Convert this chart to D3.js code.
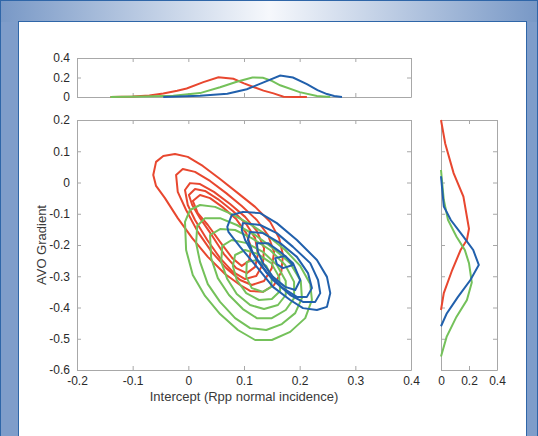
<!DOCTYPE html>
<meta charset="utf-8">
<style>
body { margin: 0; background: #fff; }
svg text { font-family: "Liberation Sans", Arial, sans-serif; fill: #333; }
.axis path, .axis line { stroke: #a8a8a8; }
.axis text { font-size: 12px; fill: #2a2a2a; }
.contour { fill: none; stroke-width: 2; stroke-linejoin: round; }
.marg { fill: none; stroke-width: 2; }
</style>
<body></body>
<script src="https://d3js.org/d3.v7.min.js"></script>
<script>
// colours of the three classes
var classColors = ["#e8472f", "#74c15a", "#2160ac"];

// tick values
var mainXTicks = [-0.2, -0.1, 0, 0.1, 0.2, 0.3, 0.4];
var mainYTicks = [0.2, 0.1, 0, -0.1, -0.2, -0.3, -0.4, -0.5, -0.6];
var densTicks = [0, 0.2, 0.4];

// top marginal: density of intercept, [intercept, density]
var topRed = [[-0.14,0],[-0.1,0.005],[-0.07,0.015],[-0.045,0.037],[-0.02,0.065],[-0.003,0.087],[0.027,0.153],[0.054,0.203],[0.081,0.187],[0.1,0.14],[0.117,0.103],[0.135,0.065],[0.153,0.037],[0.171,0.003],[0.19,0],[0.213,0]];
var topGreen = [[-0.14,0],[-0.08,0.004],[-0.027,0.012],[0.021,0.04],[0.057,0.1],[0.087,0.157],[0.115,0.2],[0.134,0.197],[0.15,0.165],[0.165,0.12],[0.2,0.05],[0.231,0.01],[0.255,0]];
var topBlue = [[-0.045,0],[0.021,0.013],[0.07,0.033],[0.105,0.08],[0.134,0.147],[0.165,0.22],[0.188,0.2],[0.213,0.133],[0.232,0.07],[0.249,0.03],[0.262,0.01],[0.276,0]];

// right marginal: density of gradient, [gradient, density]
var rightRed = [[0.2,0],[0.125,0.03],[0.03,0.09],[-0.045,0.16],[-0.148,0.2],[-0.184,0.185],[-0.216,0.14],[-0.28,0.08],[-0.354,0.02],[-0.408,0]];
var rightGreen = [[0.04,0],[-0.056,0.02],[-0.12,0.05],[-0.173,0.11],[-0.216,0.17],[-0.258,0.2],[-0.32,0.22],[-0.376,0.185],[-0.43,0.11],[-0.494,0.04],[-0.557,0]];
var rightBlue = [[0.02,0],[-0.077,0.02],[-0.12,0.07],[-0.173,0.16],[-0.216,0.23],[-0.264,0.27],[-0.312,0.21],[-0.367,0.12],[-0.42,0.04],[-0.46,0]];

// contour rings, [intercept, gradient]
var redRings = [
  [[-0.063,0.024],[-0.058,0.066],[-0.045,0.085],[-0.024,0.091],[-0.001,0.082],[0.026,0.053],[0.057,0.011],[0.089,-0.034],[0.120,-0.078],[0.147,-0.126],[0.163,-0.178],[0.170,-0.232],[0.167,-0.286],[0.154,-0.328],[0.134,-0.350],[0.111,-0.347],[0.093,-0.328],[0.066,-0.293],[0.035,-0.238],[0.007,-0.178],[-0.019,-0.114],[-0.042,-0.050],[-0.058,-0.011]],
  [[-0.022,0.024],[-0.010,0.043],[0.012,0.034],[0.039,0.005],[0.068,-0.034],[0.096,-0.075],[0.123,-0.120],[0.143,-0.168],[0.154,-0.222],[0.150,-0.274],[0.136,-0.315],[0.114,-0.328],[0.093,-0.312],[0.068,-0.274],[0.042,-0.222],[0.017,-0.158],[-0.004,-0.088],[-0.019,-0.030]],
  [[-0.006,-0.024],[0.003,-0.002],[0.021,-0.005],[0.046,-0.030],[0.075,-0.069],[0.102,-0.110],[0.123,-0.155],[0.136,-0.210],[0.134,-0.261],[0.122,-0.299],[0.102,-0.309],[0.080,-0.286],[0.057,-0.242],[0.034,-0.184],[0.012,-0.120],[-0.001,-0.072]],
  [[0.001,-0.040],[0.012,-0.021],[0.030,-0.027],[0.053,-0.053],[0.080,-0.091],[0.104,-0.133],[0.120,-0.178],[0.125,-0.229],[0.120,-0.270],[0.105,-0.290],[0.086,-0.274],[0.064,-0.229],[0.043,-0.171],[0.021,-0.114],[0.007,-0.072]],
  [[0.008,-0.059],[0.021,-0.040],[0.039,-0.050],[0.061,-0.078],[0.086,-0.117],[0.104,-0.162],[0.113,-0.210],[0.109,-0.251],[0.096,-0.267],[0.079,-0.242],[0.057,-0.190],[0.035,-0.136],[0.017,-0.098]]
];
var greenRings = [
  [[-0.006,-0.126],[0.003,-0.088],[0.021,-0.072],[0.048,-0.078],[0.078,-0.101],[0.111,-0.133],[0.143,-0.171],[0.174,-0.216],[0.201,-0.267],[0.219,-0.325],[0.222,-0.376],[0.210,-0.434],[0.183,-0.478],[0.150,-0.504],[0.120,-0.504],[0.089,-0.472],[0.057,-0.421],[0.030,-0.363],[0.008,-0.296],[-0.004,-0.216]],
  [[0.016,-0.139],[0.030,-0.114],[0.057,-0.114],[0.087,-0.136],[0.120,-0.168],[0.152,-0.210],[0.183,-0.258],[0.202,-0.315],[0.204,-0.370],[0.192,-0.418],[0.168,-0.453],[0.140,-0.472],[0.111,-0.466],[0.084,-0.434],[0.057,-0.382],[0.035,-0.325],[0.021,-0.254],[0.014,-0.194]],
  [[0.039,-0.168],[0.057,-0.149],[0.084,-0.152],[0.114,-0.178],[0.147,-0.216],[0.174,-0.264],[0.190,-0.318],[0.190,-0.370],[0.175,-0.408],[0.150,-0.434],[0.123,-0.434],[0.098,-0.405],[0.073,-0.360],[0.053,-0.306],[0.041,-0.242]],
  [[0.061,-0.203],[0.078,-0.184],[0.105,-0.194],[0.134,-0.222],[0.159,-0.264],[0.175,-0.315],[0.175,-0.360],[0.161,-0.392],[0.136,-0.405],[0.111,-0.392],[0.087,-0.357],[0.070,-0.309],[0.059,-0.254]],
  [[0.084,-0.232],[0.102,-0.216],[0.125,-0.229],[0.149,-0.258],[0.163,-0.302],[0.165,-0.347],[0.150,-0.373],[0.127,-0.376],[0.104,-0.354],[0.087,-0.312],[0.080,-0.267]],
  [[0.105,-0.254],[0.123,-0.248],[0.140,-0.267],[0.150,-0.302],[0.149,-0.334],[0.134,-0.350],[0.114,-0.338],[0.104,-0.302]]
];
var blueRings = [
  [[0.070,-0.142],[0.078,-0.104],[0.098,-0.094],[0.129,-0.098],[0.159,-0.130],[0.195,-0.184],[0.231,-0.248],[0.249,-0.302],[0.255,-0.354],[0.249,-0.398],[0.231,-0.408],[0.206,-0.402],[0.183,-0.376],[0.152,-0.334],[0.123,-0.270],[0.093,-0.206],[0.072,-0.158]],
  [[0.096,-0.152],[0.098,-0.130],[0.129,-0.136],[0.159,-0.162],[0.188,-0.206],[0.219,-0.258],[0.233,-0.312],[0.237,-0.354],[0.228,-0.382],[0.206,-0.382],[0.183,-0.360],[0.152,-0.312],[0.123,-0.248],[0.102,-0.184]],
  [[0.107,-0.184],[0.111,-0.158],[0.134,-0.162],[0.165,-0.194],[0.195,-0.238],[0.215,-0.290],[0.222,-0.338],[0.213,-0.366],[0.195,-0.366],[0.170,-0.338],[0.141,-0.290],[0.116,-0.226]],
  [[0.123,-0.194],[0.143,-0.194],[0.168,-0.226],[0.188,-0.258],[0.201,-0.312],[0.192,-0.344],[0.174,-0.334],[0.152,-0.302],[0.134,-0.258],[0.125,-0.222]],
  [[0.156,-0.242],[0.174,-0.235],[0.188,-0.264],[0.170,-0.274],[0.159,-0.261]]
];

var width = 538, height = 436;

var svg = d3.select("body").append("svg")
    .attr("width", width)
    .attr("height", height);

// --- frame ---
var defs = svg.append("defs");
var grad = defs.append("linearGradient").attr("id", "topbar");
grad.append("stop").attr("offset", "0%").attr("stop-color", "#7898c6");
grad.append("stop").attr("offset", "50%").attr("stop-color", "#f6f8fc");
grad.append("stop").attr("offset", "100%").attr("stop-color", "#7898c6");

svg.append("rect").attr("width", width).attr("height", height).attr("fill", "#7f9dca");
svg.append("rect").attr("width", width).attr("height", 22).attr("fill", "url(#topbar)");
svg.append("rect").attr("x", 0.5).attr("y", 0.5).attr("width", width - 1).attr("height", height)
    .attr("fill", "none").attr("stroke", "#2f66a8");
svg.append("rect").attr("x", 18.5).attr("y", 21.5).attr("width", 508).attr("height", height)
    .attr("fill", "#fff").attr("stroke", "#2f66a8");

// --- scales ---
var xMain = d3.scaleLinear().domain([-0.2, 0.4]).range([77, 411]);
var yMain = d3.scaleLinear().domain([-0.6, 0.2]).range([370, 120]);
var yTop = d3.scaleLinear().domain([0, 0.4]).range([97, 58]);
var xRight = d3.scaleLinear().domain([0, 0.4]).range([441, 497]);

// plain hyphen minus, like matlab
var fmt = function(d) { return String(+d.toFixed(1)); };

// draws a matlab-like box with inward ticks on all four sides
function box(xs, ys, xt, yt, showX, showY) {
  var g = svg.append("g").attr("class", "axis");
  var x0 = xs.range()[0], x1 = xs.range()[1];
  var yb = ys.range()[0], yt0 = ys.range()[1];

  g.append("g").attr("transform", "translate(0," + yb + ")")
    .call(d3.axisBottom(xs).tickValues(xt).tickSize(-4).tickSizeOuter(0).tickPadding(6)
      .tickFormat(showX ? fmt : ""));
  g.append("g").attr("transform", "translate(0," + yt0 + ")")
    .call(d3.axisTop(xs).tickValues(xt).tickSize(-4).tickSizeOuter(0).tickFormat(""));
  g.append("g").attr("transform", "translate(" + x0 + ",0)")
    .call(d3.axisLeft(ys).tickValues(yt).tickSize(-4).tickSizeOuter(0).tickPadding(7)
      .tickFormat(showY ? fmt : ""));
  g.append("g").attr("transform", "translate(" + x1 + ",0)")
    .call(d3.axisRight(ys).tickValues(yt).tickSize(-4).tickSizeOuter(0).tickFormat(""));
  g.selectAll("text").attr("font-family", null).attr("font-size", null);
  return g;
}

box(xMain, yMain, mainXTicks, mainYTicks, true, true);
box(xMain, yTop, mainXTicks, densTicks, false, true);
box(xRight, yMain, densTicks, mainYTicks, true, false);

// --- contours ---
var ring = d3.line()
    .x(function(d) { return xMain(d[0]); })
    .y(function(d) { return yMain(d[1]); })
    .curve(d3.curveLinearClosed);

[redRings, greenRings, blueRings].forEach(function(rings, i) {
  svg.append("g").selectAll("path")
    .data(rings)
    .enter().append("path")
      .attr("class", "contour")
      .attr("stroke", classColors[i])
      .attr("d", ring);
});

// --- marginal densities ---
var topLine = d3.line()
    .x(function(d) { return xMain(d[0]); })
    .y(function(d) { return yTop(d[1]); });
var rightLine = d3.line()
    .x(function(d) { return xRight(d[1]); })
    .y(function(d) { return yMain(d[0]); });

[topRed, topGreen, topBlue].forEach(function(s, i) {
  svg.append("path").datum(s).attr("class", "marg")
    .attr("stroke", classColors[i]).attr("d", topLine);
});
[rightRed, rightGreen, rightBlue].forEach(function(s, i) {
  svg.append("path").datum(s).attr("class", "marg")
    .attr("stroke", classColors[i]).attr("d", rightLine);
});

// --- axis titles ---
svg.append("text")
    .attr("x", 244).attr("y", 401)
    .attr("text-anchor", "middle")
    .style("font-size", "13px").style("fill", "#3a3a3a")
    .text("Intercept (Rpp normal incidence)");

svg.append("text")
    .attr("transform", "translate(46,245) rotate(-90)")
    .attr("text-anchor", "middle")
    .style("font-size", "13px").style("fill", "#3a3a3a")
    .text("AVO Gradient");
</script>
